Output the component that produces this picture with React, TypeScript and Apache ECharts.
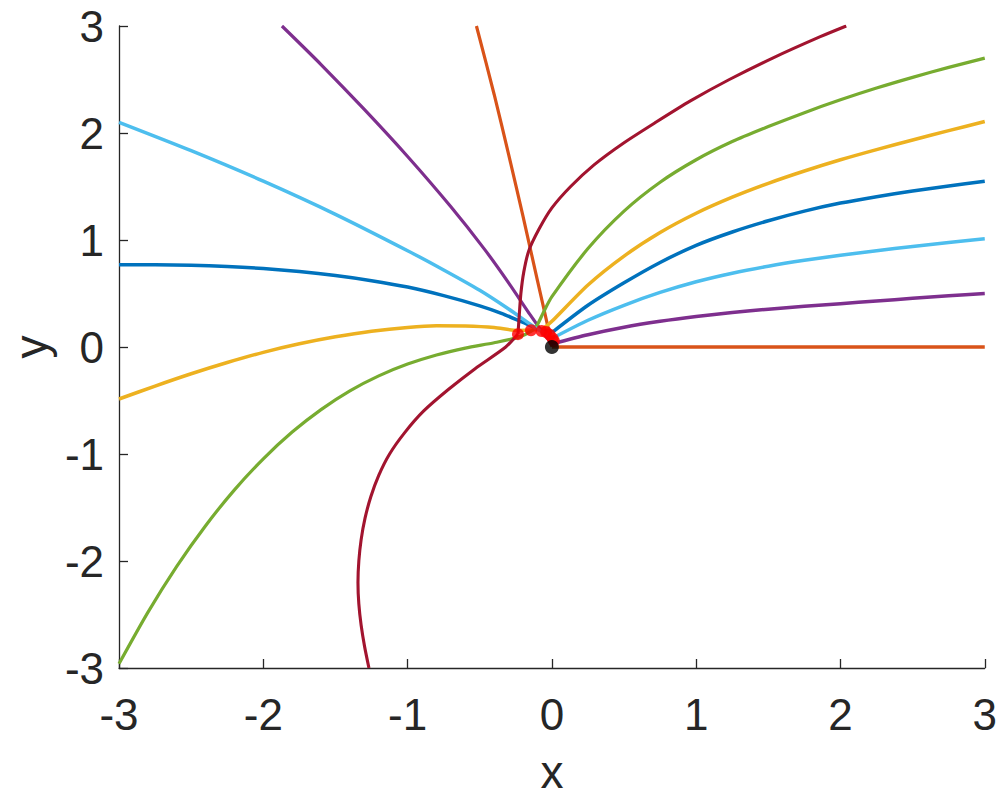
import React, { useEffect, useRef } from "react";
import * as echarts from "echarts";

const xTicks = [-3, -2, -1, 0, 1, 2, 3];
const yTicks = [-3, -2, -1, 0, 1, 2, 3];

const blueLeft = [
  [-3, 0.768], [-2.75, 0.768], [-2.5, 0.764], [-2.25, 0.752], [-2.0, 0.733],
  [-1.75, 0.705], [-1.5, 0.668], [-1.25, 0.62], [-1.0, 0.56], [-0.75, 0.48],
  [-0.5, 0.385], [-0.35, 0.315], [-0.2, 0.23], [-0.1, 0.175], [0.005, 0.14],
];
const blueRight = [
  [0.005, 0.14], [0.25, 0.39], [0.5, 0.6], [0.75, 0.79], [1.0, 0.95],
  [1.25, 1.075], [1.5, 1.18], [1.75, 1.27], [2.0, 1.345], [2.25, 1.405],
  [2.5, 1.458], [2.75, 1.505], [3, 1.549],
];
const orangeLeft = [
  [-0.523, 3.0], [-0.4, 2.36], [-0.3, 1.8], [-0.2, 1.22], [-0.1, 0.62],
  [-0.028, 0.19], [0.0, 0.0],
];
const orangeRight = [[0.0, 0.0], [1.0, 0.0], [2.0, 0.0], [3.0, 0.0]];
const yellowCurve = [
  [-3, -0.486], [-2.75, -0.365], [-2.5, -0.25], [-2.25, -0.145], [-2.0, -0.05],
  [-1.75, 0.03], [-1.5, 0.095], [-1.25, 0.147], [-1.0, 0.183], [-0.8, 0.198],
  [-0.6, 0.196], [-0.4, 0.182], [-0.235, 0.155], [-0.145, 0.158], [-0.069, 0.17],
  [-0.035, 0.2], [0.0, 0.24], [0.25, 0.58], [0.5, 0.85], [0.75, 1.07],
  [1.0, 1.25], [1.25, 1.4], [1.5, 1.53], [1.75, 1.645], [2.0, 1.75],
  [2.25, 1.845], [2.5, 1.935], [2.75, 2.022], [3, 2.107],
];
const purpleLeft = [
  [-1.871, 3.0], [-1.6, 2.64], [-1.3, 2.22], [-1.0, 1.78], [-0.7, 1.31],
  [-0.465, 0.91], [-0.3, 0.6], [-0.15, 0.3], [-0.06, 0.13], [0.0, 0.03],
];
const purpleRight = [
  [0.0, 0.03], [0.25, 0.115], [0.5, 0.185], [0.75, 0.24], [1.0, 0.285],
  [1.25, 0.322], [1.5, 0.353], [1.75, 0.38], [2.0, 0.405], [2.25, 0.43],
  [2.5, 0.455], [2.75, 0.478], [3, 0.499],
];
const greenCurve = [
  [-3, -2.96], [-2.8, -2.48], [-2.6, -2.05], [-2.4, -1.67], [-2.2, -1.335],
  [-2.0, -1.045], [-1.8, -0.795], [-1.6, -0.585], [-1.4, -0.41], [-1.2, -0.27],
  [-1.0, -0.16], [-0.8, -0.075], [-0.6, -0.01], [-0.4, 0.04], [-0.235, 0.09],
  [-0.14, 0.15], [-0.1, 0.21], [-0.06, 0.32], [0.0, 0.47], [0.25, 0.92],
  [0.5, 1.27], [0.75, 1.54], [1.0, 1.75], [1.25, 1.92], [1.5, 2.06],
  [1.75, 2.19], [2.0, 2.31], [2.25, 2.42], [2.5, 2.52], [2.75, 2.613], [3, 2.7],
];
const lightBlueLeft = [
  [-3, 2.1], [-2.5, 1.835], [-2.0, 1.55], [-1.5, 1.24], [-1.0, 0.9],
  [-0.75, 0.72], [-0.5, 0.53], [-0.3, 0.355], [-0.12, 0.185], [-0.04, 0.12],
  [0.0, 0.08],
];
const lightBlueRight = [
  [0.0, 0.08], [0.25, 0.25], [0.5, 0.39], [0.75, 0.51], [1.0, 0.61],
  [1.25, 0.69], [1.5, 0.755], [1.75, 0.81], [2.0, 0.858], [2.25, 0.9],
  [2.5, 0.94], [2.75, 0.977], [3, 1.011],
];
const darkRedLower = [
  [-1.268, -3.0], [-1.298, -2.8], [-1.322, -2.6], [-1.338, -2.4], [-1.344, -2.2],
  [-1.338, -2.0], [-1.322, -1.8], [-1.295, -1.6], [-1.255, -1.4], [-1.2, -1.2],
  [-1.125, -1.0], [-1.02, -0.8], [-0.89, -0.6], [-0.72, -0.4], [-0.53, -0.2],
  [-0.32, 0.0], [-0.235, 0.122],
];
const darkRedUpper = [
  [-0.235, 0.122], [-0.226, 0.3], [-0.215, 0.5], [-0.195, 0.7], [-0.16, 0.9],
  [-0.09, 1.1], [0.0, 1.3], [0.13, 1.5], [0.29, 1.7], [0.49, 1.9],
  [0.72, 2.1], [0.96, 2.3], [1.23, 2.5], [1.53, 2.7], [1.86, 2.9], [2.04, 3.0],
];
const redPoints = [
  [-0.235, 0.12], [-0.145, 0.157], [-0.072, 0.15], [-0.04, 0.14],
  [-0.015, 0.115], [0.005, 0.08], [0.014, 0.055],
];
const blackPoints = [[0, 0]];

const BLUE = "#0072BD";
const ORANGE = "#D95319";
const YELLOW = "#EDB120";
const PURPLE = "#7E2F8E";
const GREEN = "#77AC30";
const LIGHTBLUE = "#4DBEEE";
const DARKRED = "#A2142F";

const pieces: [string, number[][], number][] = [
  [BLUE, blueLeft, 3.5],
  [BLUE, blueRight, 3.5],
  [ORANGE, orangeLeft, 3.2],
  [ORANGE, orangeRight, 3.5],
  [YELLOW, yellowCurve, 3.5],
  [PURPLE, purpleLeft, 3.2],
  [PURPLE, purpleRight, 3.5],
  [GREEN, greenCurve, 3.2],
  [LIGHTBLUE, lightBlueLeft, 3.5],
  [LIGHTBLUE, lightBlueRight, 3.5],
  [DARKRED, darkRedLower, 3.1],
  [DARKRED, darkRedUpper, 3.1],
];

const FONT = "Liberation Sans, Arial, Helvetica, sans-serif";
const AXIS_COLOR = "#262626";

export default function App() {
  const ref = useRef<HTMLDivElement>(null);
  useEffect(() => {
    if (!ref.current) return;
    const chart = echarts.init(ref.current, undefined, { renderer: "svg" });
    const axisCommon = {
      type: "value" as const,
      min: -3,
      max: 3,
      interval: 1,
      splitLine: { show: false },
      axisLine: { onZero: false, lineStyle: { color: AXIS_COLOR, width: 1.3 } },
      axisTick: { inside: true, length: 9, lineStyle: { color: AXIS_COLOR, width: 1.3 } },
      nameTextStyle: { fontFamily: FONT, fontSize: 46, color: AXIS_COLOR },
    };
    chart.setOption({
      animation: false,
      backgroundColor: "#ffffff",
      grid: { left: 118, right: 14, top: 26, bottom: 123, containLabel: false },
      xAxis: {
        ...axisCommon,
        name: "x",
        nameLocation: "middle",
        nameGap: 81,
        axisLabel: {
          margin: 24,
          fontFamily: FONT,
          fontSize: 44,
          color: AXIS_COLOR,
          formatter: (v: number) => (xTicks.includes(v) ? String(v) : ""),
        },
      },
      yAxis: {
        ...axisCommon,
        name: "y",
        nameLocation: "middle",
        nameGap: 60,
        axisLabel: {
          margin: 15,
          fontFamily: FONT,
          fontSize: 44,
          color: AXIS_COLOR,
          formatter: (v: number) => (yTicks.includes(v) ? String(v) : ""),
        },
      },
      series: [
        ...pieces.map(([color, data, width]) => ({
          type: "line",
          data,
          showSymbol: false,
          smooth: 0.25,
          lineStyle: { color, width },
          itemStyle: { color },
          clip: true,
          z: 2,
        })),
        {
          type: "scatter",
          data: redPoints,
          symbolSize: 12,
          itemStyle: { color: "#FF0000" },
          z: 5,
        },
        {
          type: "scatter",
          data: blackPoints,
          symbolSize: 14,
          itemStyle: { color: "#000000" },
          z: 6,
        },
      ],
    });
    return () => chart.dispose();
  }, []);
  return (
    <div
      ref={ref}
      style={{ position: "fixed", left: 0, top: 0, width: 1000, height: 800, background: "#fff" }}
    />
  );
}
